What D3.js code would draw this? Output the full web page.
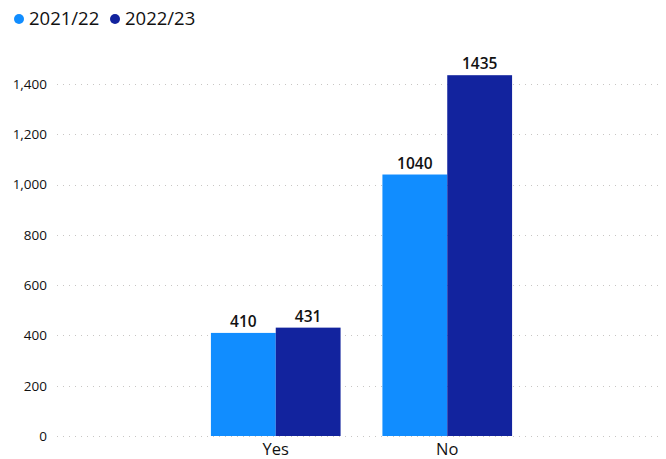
<!DOCTYPE html>
<html>
<head>
<meta charset="utf-8">
<script src="https://cdn.jsdelivr.net/npm/d3@7"></script>
<style>
  body { margin: 0; background: #fff; }
  text { font-family: "Open Sans", "Noto Sans", sans-serif; }
</style>
</head>
<body>
<div class="chart"></div>
<script>
var categories = ["Yes", "No"];
var seriesNames = ["2021/22", "2022/23"];
var values2122 = [410, 1040];
var values2223 = [431, 1435];
var yTicks = [0, 200, 400, 600, 800, 1000, 1200, 1400];

var colors = ["#118DFF", "#12239E"];

var svgWidth = 666;
var svgHeight = 459;

var svg = d3.select(".chart")
  .append("svg")
  .attr("width", svgWidth)
  .attr("height", svgHeight);

// scales
var x = d3.scaleBand()
  .domain(categories)
  .range([190, 533])
  .paddingInner(0.244)
  .paddingOuter(0.122);

var xSub = d3.scaleBand()
  .domain(seriesNames)
  .range([0, x.bandwidth()]);

var y = d3.scaleLinear()
  .domain([0, 1400])
  .range([436, 84]);

// gridlines
svg.append("g")
  .selectAll("line")
  .data(yTicks)
  .enter()
  .append("line")
  .attr("x1", 57)
  .attr("x2", 662)
  .attr("y1", function(d) { return Math.round(y(d)) + 0.5; })
  .attr("y2", function(d) { return Math.round(y(d)) + 0.5; })
  .attr("stroke", "#c8c6c4")
  .attr("stroke-width", 1)
  .attr("stroke-dasharray", "1,5");

// y axis labels
var leftAxis = d3.axisLeft(y)
  .tickValues(yTicks)
  .tickSize(0)
  .tickPadding(0)
  .tickFormat(d3.format(","));

var yAxis = svg.append("g")
  .attr("transform", "translate(47,0)")
  .call(leftAxis);
yAxis.select(".domain").remove();
yAxis.selectAll("text")
  .attr("font-size", 13.5)
  .attr("fill", "#111")
  .style("font-family", "'Open Sans', sans-serif");

// bars
var rows = categories.map(function(c, i) {
  return [
    { cat: c, series: seriesNames[0], value: values2122[i], color: colors[0] },
    { cat: c, series: seriesNames[1], value: values2223[i], color: colors[1] }
  ];
});

var groups = svg.append("g")
  .selectAll("g")
  .data(rows)
  .enter()
  .append("g")
  .attr("transform", function(d) { return "translate(" + x(d[0].cat) + ",0)"; });

groups.selectAll("rect")
  .data(function(d) { return d; })
  .enter()
  .append("rect")
  .attr("x", function(d) { return xSub(d.series); })
  .attr("width", xSub.bandwidth())
  .attr("y", function(d) { return y(d.value); })
  .attr("height", function(d) { return y(0) - y(d.value); })
  .attr("fill", function(d) { return d.color; });

groups.selectAll("text.val")
  .data(function(d) { return d; })
  .enter()
  .append("text")
  .attr("class", "val")
  .attr("x", function(d) { return xSub(d.series) + xSub.bandwidth() / 2; })
  .attr("y", function(d) { return y(d.value) - 6; })
  .attr("text-anchor", "middle")
  .attr("font-size", 15.5)
  .attr("font-weight", 600)
  .attr("fill", "#111")
  .text(function(d) { return d.value; });

// x axis labels
var bottomAxis = d3.axisBottom(x).tickSize(0).tickPadding(0);
var xAxis = svg.append("g")
  .attr("transform", "translate(0,443)")
  .call(bottomAxis);
xAxis.select(".domain").remove();
xAxis.selectAll("text")
  .attr("font-size", 16.5)
  .attr("fill", "#111")
  .attr("dy", "0.71em")
  .style("font-family", "'Open Sans', sans-serif");

// legend
var legendX = [19, 115];
var legend = svg.append("g")
  .selectAll("g")
  .data(seriesNames)
  .enter()
  .append("g")
  .attr("transform", function(d, i) { return "translate(" + legendX[i] + ",19)"; });

legend.append("circle")
  .attr("r", 5)
  .attr("fill", function(d, i) { return colors[i]; });

legend.append("text")
  .attr("x", 10)
  .attr("dy", "0.35em")
  .attr("font-size", 18.5)
  .attr("fill", "#111")
  .text(function(d) { return d; });
</script>
</body>
</html>
